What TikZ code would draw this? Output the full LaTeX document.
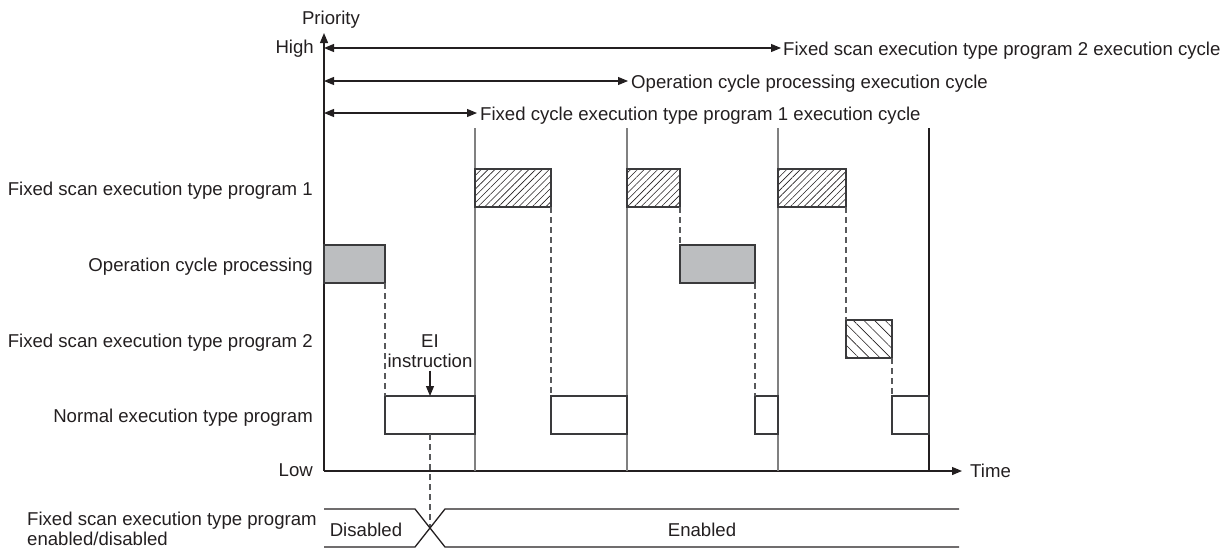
\documentclass[tikz,border=0pt]{standalone}
\usepackage{fontspec}
\setmainfont{Liberation Sans}
\usetikzlibrary{arrows.meta,patterns.meta}
\definecolor{ink}{HTML}{231F20}
\definecolor{boxline}{HTML}{3A3A3C}
\definecolor{boxfill}{HTML}{BCBEC0}
\definecolor{vline}{HTML}{808080}
\definecolor{dashc}{HTML}{58595B}
\newcommand{\labfont}{\fontsize{18.6}{21}\selectfont}
\begin{document}
\begin{tikzpicture}[x=1pt,y=-1pt,
  every node/.style={font=\labfont, text=ink, inner sep=0pt},
  task/.style={draw=boxline, line width=1.4pt, rectangle, inner sep=0pt, outer sep=0pt, anchor=north west, minimum height=38pt},
  hatchA/.style={pattern={Lines[angle=45,distance=4.8pt,line width=0.6pt]}, pattern color=ink},
  hatchB/.style={pattern={Lines[angle=-45,distance=7.5pt,line width=0.6pt]}, pattern color=ink},
  opfill/.style={fill=boxfill},
  guide/.style={draw=dashc, line width=1.1pt, dash pattern=on 6pt off 4pt},
  axis/.style={draw=ink, line width=1.2pt},
  tip/.style={-{Triangle[length=10pt,width=8pt]}},
  cyc/.style={draw=ink, line width=1.1pt, {Triangle[length=10pt,width=8pt]}-{Triangle[length=10pt,width=8pt]}},
  period/.style={draw=vline, line width=1.2pt},
  band/.style={draw=ink, line width=1.3pt}
]
\useasboundingbox (0,0) rectangle (1227,549);

% axes
\coordinate (origin) at (324,471);
\coordinate (ytop) at (324,33);
\coordinate (xend) at (962,471);
\draw[axis,tip] (origin) -- (ytop);
\draw[axis,tip] (origin) -- (xend);
\node[anchor=mid] (prio) at (331,22) {Priority};
\node[anchor=mid east] (high) at (314,51) {High};
\node[anchor=mid east] (low) at (313,474) {Low};
\node[anchor=mid west] (time) at (970,475) {Time};

% cycle arrows
\coordinate (c2s) at (324,48);  \coordinate (c2e) at (781,48);
\coordinate (ops) at (324,81);  \coordinate (ope) at (628,81);
\coordinate (c1s) at (324,113); \coordinate (c1e) at (477,113);
\draw[cyc] (c2s) -- (c2e);
\draw[cyc] (ops) -- (ope);
\draw[cyc] (c1s) -- (c1e);
\node[anchor=mid west] (c2lab) at (783,53) {Fixed scan execution type program 2 execution cycle};
\node[anchor=mid west] (oplab) at (631,86) {Operation cycle processing execution cycle};
\node[anchor=mid west] (c1lab) at (480,118) {Fixed cycle execution type program 1 execution cycle};

% period lines
\coordinate (p1t) at (475,128); \coordinate (p1b) at (475,471);
\coordinate (p2t) at (627,128); \coordinate (p2b) at (627,471);
\coordinate (p3t) at (778,128); \coordinate (p3b) at (778,471);
\coordinate (p4t) at (929,128); \coordinate (p4b) at (929,471);
\draw[period] (p1t) -- (p1b);
\draw[period] (p2t) -- (p2b);
\draw[period] (p3t) -- (p3b);
\draw[axis] (p4t) -- (p4b);

% row labels
\node[anchor=mid east] (r1) at (313,193) {Fixed scan execution type program 1};
\node[anchor=mid east] (r2) at (313,269) {Operation cycle processing};
\node[anchor=mid east] (r3) at (313,345) {Fixed scan execution type program 2};
\node[anchor=mid east] (r4) at (313,420) {Normal execution type program};

% task boxes
\node[task,hatchA,minimum width=76pt] (f1a) at (475,169) {};
\node[task,hatchA,minimum width=53pt] (f1b) at (627,169) {};
\node[task,hatchA,minimum width=68pt] (f1c) at (778,169) {};
\node[task,opfill,minimum width=61pt] (op1) at (324,245) {};
\node[task,opfill,minimum width=75pt] (op2) at (680,245) {};
\node[task,hatchB,minimum width=46pt] (f2) at (846,320) {};
\node[task,minimum width=90pt] (n1) at (385,396) {};
\node[task,minimum width=76pt] (n2) at (551,396) {};
\node[task,minimum width=23pt] (n3) at (755,396) {};
\node[task,minimum width=37pt] (n4) at (892,396) {};

% hand-over guides
\draw[guide] (op1.south east) -- (n1.north west);
\draw[guide] (f1a.south east) -- (n2.north west);
\draw[guide] (f1b.south east) -- (op2.north west);
\draw[guide] (op2.south east) -- (n3.north west);
\draw[guide] (f1c.south east) -- (f2.north west);
\draw[guide] (f2.south east) -- (n4.north west);

% EI instruction
\node[align=center, anchor=center] (ei) at (430,351) {EI\\[-1pt]instruction};
\draw[draw=ink, line width=1.1pt, tip] (ei.south) ++(0,3) -- (n1.north);
\coordinate (cross) at (430,528);
\draw[guide] (n1.south) -- (cross);

% enabled/disabled band
\coordinate (bl1) at (324,509); \coordinate (bl2) at (415,509);
\coordinate (bl3) at (445,547); \coordinate (bl4) at (959,547);
\coordinate (bu1) at (324,547); \coordinate (bu2) at (415,547);
\coordinate (bu3) at (445,509); \coordinate (bu4) at (959,509);
\draw[band] (bl1) -- (bl2) -- (bl3) -- (bl4);
\draw[band] (bu1) -- (bu2) -- (bu3) -- (bu4);
\node[anchor=mid] (dis) at (366,534) {Disabled};
\node[anchor=mid] (ena) at (702,534) {Enabled};
\node[align=left, anchor=west, font=\fontsize{18.6}{20}\selectfont] (bandlab) at (27,529) {Fixed scan execution type program\\enabled/disabled};
\end{tikzpicture}
\end{document}
